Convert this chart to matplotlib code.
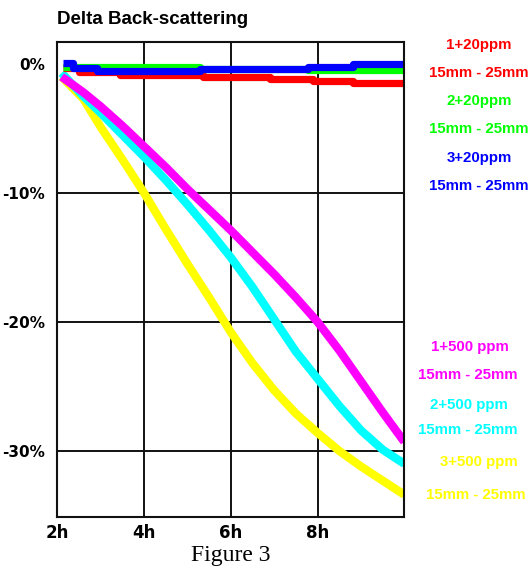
import matplotlib.pyplot as plt

# hours and delta back-scattering (%)
hours_low = [2.1, 2.6, 3.0, 3.5, 4.0, 4.5, 5.0, 5.5, 6.0, 6.5, 7.0, 7.5, 8.0, 8.5, 9.0, 9.5, 10.0]
magenta_500 = [-1.0, -2.2, -3.3, -4.8, -6.4, -8.0, -9.7, -11.3, -12.9, -14.6, -16.3, -18.1, -20.0, -22.2, -24.6, -27.0, -29.3]
cyan_500 = [-0.7, -2.5, -3.8, -5.5, -7.2, -9.0, -10.9, -12.9, -15.0, -17.3, -19.8, -22.3, -24.4, -26.5, -28.4, -29.9, -31.0]
yellow_500 = [-1.0, -2.7, -4.9, -7.4, -10.0, -12.8, -15.5, -18.1, -20.8, -23.2, -25.3, -27.1, -28.6, -30.0, -31.2, -32.3, -33.4]

# stepped low-dose curves
red_h = [2.12, 2.5, 3.44, 5.36, 6.9, 7.89, 8.81, 10.0]
red_20 = [-0.3, -0.6, -0.87, -1.05, -1.18, -1.34, -1.47, -1.47]
green_h = [2.12, 5.29, 7.78, 10.0]
green_20 = [-0.2, -0.4, -0.48, -0.48]
blue_h = [2.12, 2.36, 2.91, 5.29, 7.78, 8.81, 10.0]
blue_20 = [0.05, -0.3, -0.54, -0.4, -0.22, -0.04, -0.04]

x_ticks = [2, 4, 6, 8]
x_labels = ['2h', '4h', '6h', '8h']
y_ticks = [0, -10, -20, -30]
y_labels = ['0%', '-10%', '-20%', '-30%']

legend_top = ['1+20ppm', '15mm - 25mm', '2+20ppm', '15mm - 25mm', '3+20ppm', '15mm - 25mm']
legend_top_col = ['#ff0000', '#ff0000', '#00ff00', '#00ff00', '#0000ff', '#0000ff']
legend_top_y = [45, 73, 101, 129, 158, 186]
legend_bot = ['1+500 ppm', '15mm - 25mm', '2+500 ppm', '15mm - 25mm', '3+500 ppm', '15mm - 25mm']
legend_bot_col = ['#ff00ff', '#ff00ff', '#00ffff', '#00ffff', '#ffff00', '#ffff00']
legend_bot_y = [347, 375, 405, 430, 462, 495]
legend_bot_x = [470, 468, 469, 468, 479, 476]

W, H = 532, 569
fig = plt.figure(figsize=(W / 100, H / 100), dpi=100)
ax = fig.add_axes([57.3 / W, 1 - 516.7 / H, 347 / W, 474.7 / H])

lw = 6.0
ax.plot(hours_low, yellow_500, color='#ffff00', lw=lw, solid_capstyle='butt', solid_joinstyle='round')
ax.plot(hours_low, cyan_500, color='#00ffff', lw=lw, solid_capstyle='butt', solid_joinstyle='round')
ax.plot(hours_low, magenta_500, color='#ff00ff', lw=lw, solid_capstyle='butt', solid_joinstyle='round')
ax.plot(red_h, red_20, color='#ff0000', lw=5.2, drawstyle='steps-post', solid_capstyle='butt')
ax.plot(green_h, green_20, color='#00ff00', lw=5.2, drawstyle='steps-post', solid_capstyle='butt')
ax.plot(blue_h, blue_20, color='#0000ff', lw=5.2, drawstyle='steps-post', solid_capstyle='butt')

for x in x_ticks[1:]:
    ax.axvline(x, color='#111111', lw=1.4, zorder=0)
for y in y_ticks[1:]:
    ax.axhline(y, color='#111111', lw=1.4, zorder=0)

ax.set_xlim(2, 10)
ax.set_ylim(-35.1, 1.7)
ax.set_xticks(x_ticks)
ax.set_xticklabels(x_labels, fontsize=12, fontweight='bold', family='DejaVu Sans')
ax.set_yticks(y_ticks)
ax.set_yticklabels(y_labels, fontsize=11, fontweight='bold', family='DejaVu Sans')
ax.tick_params(length=0)
ax.tick_params(axis='x', pad=5)
ax.tick_params(axis='y', pad=9)
for s in ax.spines.values():
    s.set_color('#111111')
    s.set_linewidth(1.5)

fig.text(57 / W, 1 - 20 / H, 'Delta Back-scattering', fontsize=13.5, fontweight='bold',
         family='Liberation Sans', ha='left', va='center')
fig.text(231 / W, 1 - 556 / H, 'Figure 3', fontsize=17, family='Liberation Serif',
         ha='center', va='center')

for t, c, y in zip(legend_top, legend_top_col, legend_top_y):
    fig.text(479 / W, 1 - y / H, t, color=c, fontsize=10.8, fontweight='bold',
             family='Liberation Sans', ha='center', va='center')
for t, c, y, x in zip(legend_bot, legend_bot_col, legend_bot_y, legend_bot_x):
    fig.text(x / W, 1 - y / H, t, color=c, fontsize=10.8, fontweight='bold',
             family='Liberation Sans', ha='center', va='center')

fig.savefig('out.png', dpi=100)
